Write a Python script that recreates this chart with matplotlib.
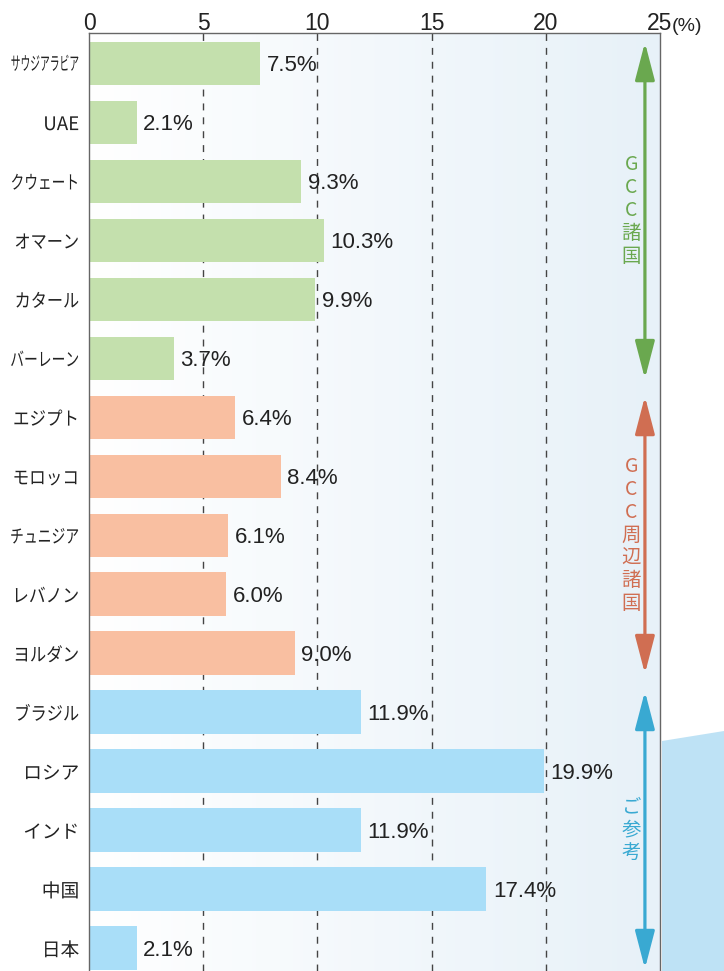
import numpy as np
import matplotlib
matplotlib.use('Agg')
import matplotlib.pyplot as plt
from matplotlib.patheffects import AbstractPathEffect
from matplotlib.transforms import Affine2D
from matplotlib.patches import FancyArrowPatch, Polygon

# ---------------- data ----------------
countries = ['サウジアラビア', 'UAE', 'クウェート', 'オマーン', 'カタール', 'バーレーン',
             'エジプト', 'モロッコ', 'チュニジア', 'レバノン', 'ヨルダン',
             'ブラジル', 'ロシア', 'インド', '中国', '日本']
values = [7.5, 2.1, 9.3, 10.3, 9.9, 3.7,
          6.4, 8.4, 6.1, 6.0, 9.0,
          11.9, 19.9, 11.9, 17.4, 2.1]
group_of = [0]*6 + [1]*5 + [2]*5
group_names = ['GCC諸国', 'GCC周辺諸国', 'ご参考']
group_ranges = [(0, 5), (6, 10), (11, 15)]
xticks = [0, 5, 10, 15, 20, 25]
xtick_labels = ['0', '5', '10', '15', '20', '25']

bar_colors = ['#C4E0AD', '#F9BFA1', '#A9DEF8']
group_colors = ['#6AA84F', '#D06E52', '#39A9D2']
# target label widths (px) for condensed Japanese labels
label_widths = [67, 44, 65, 62, 62, 67, 62, 62, 67, 62, 62, 62, 52, 52, 42, 42]

LABEL_FS = 13.5


class Condense(AbstractPathEffect):
    """Scale text to a target width (right edge fixed) and stretch vertically."""
    def __init__(self, target_px, sy=1.0):
        super().__init__()
        self.target = target_px
        self.sy = sy

    def draw_path(self, renderer, gc, tpath, affine, rgbFace=None):
        ext = tpath.get_extents()
        x0, x1 = ext.x0, ext.x1
        yc = 0.5 * (ext.y0 + ext.y1)
        p0 = affine.transform((x0, 0))
        p1 = affine.transform((x1, 0))
        w = abs(p1[0] - p0[0])
        sx = 1.0
        if w > 0:
            sx = min(self.sy, self.target / w)
        new = (Affine2D().translate(-x1, -yc).scale(sx, self.sy).translate(x1, yc)
               + affine)
        renderer.draw_path(gc, tpath, new, rgbFace)


W, H = 724, 971
fig = plt.figure(figsize=(W/100, H/100), dpi=100)
ax = fig.add_axes([89/W, 0, (660-89)/W, 1 - 33/H])

n = len(countries)
ypos = np.arange(n)

# background gradient
grad = np.linspace(0, 1, 256)[None, :]
c0 = np.array([1.0, 1.0, 1.0])
c1 = np.array([0.906, 0.945, 0.973])
img = c0[None, None, :] * (1 - grad[..., None]) + c1[None, None, :] * grad[..., None]
ax.imshow(img, extent=[0, 25, 15.39, -0.51], aspect='auto', zorder=0)

# grid lines
for xv in [5, 10, 15, 20]:
    ax.axvline(xv, color='#444444', lw=1.0, ls=(0, (5, 5)), zorder=1)

cols = [bar_colors[g] for g in group_of]
ax.barh(ypos, values, height=0.73, color=cols, zorder=2)

for i, v in enumerate(values):
    ax.text(v + 0.28, i + 0.04, f'{v:.1f}%', va='center', ha='left', fontsize=16,
            family=['Liberation Sans', 'DejaVu Sans'], color='#222222', zorder=3)

ax.set_xlim(0, 25)
ax.set_ylim(15.39, -0.51)

ax.xaxis.tick_top()
ax.set_xticks(xticks)
ax.set_xticklabels(xtick_labels, fontsize=16.5, family=['Liberation Sans', 'DejaVu Sans'],
                   color='#222222')
ax.tick_params(axis='x', length=0, pad=-1.5)
fig.text(672/W, 1 - 31/H, '(%)', ha='left', va='baseline',
         fontsize=14, family=['Liberation Sans', 'DejaVu Sans'], color='#222222')

ax.set_yticks(ypos)
ax.set_yticklabels(countries, family=['Noto Sans CJK JP', 'DejaVu Sans'],
                   color='#222222')
ax.tick_params(axis='y', length=0, pad=7)
for lbl, tw, name in zip(ax.get_yticklabels(), label_widths, countries):
    nchar = len(name) if not name.isascii() else 0.75 * len(name)
    fs = min(LABEL_FS, LABEL_FS * 4.1 / nchar)
    lbl.set_fontsize(fs)
    lbl.set_path_effects([Condense(tw, LABEL_FS / fs)])

for s in ['top', 'left', 'right']:
    ax.spines[s].set_color('#666666')
    ax.spines[s].set_linewidth(1.0)
ax.spines['bottom'].set_visible(False)

# group arrows and labels
for (a, b), name, col in zip(group_ranges, group_names, group_colors):
    arr = FancyArrowPatch((24.34, a - 0.35), (24.34, b + 0.35),
                          arrowstyle='<|-|>,head_length=23,head_width=6',
                          color=col, lw=2.3, mutation_scale=1, zorder=4,
                          shrinkA=0, shrinkB=0)
    ax.add_patch(arr)
    ax.text(23.75, (a + b) / 2, '\n'.join(list(name)), ha='center', va='center',
            fontsize=14, linespacing=1.12, color=col,
            family=['Noto Sans CJK JP', 'DejaVu Sans'], zorder=4)

# decorative shape at bottom right
poly = Polygon([(662/W, 1 - 741/H), (1.0, 1 - 731/H), (1.0, 0), (662/W, 0)],
               closed=True, transform=fig.transFigure, facecolor='#BEE2F5',
               edgecolor='none', zorder=-1)
fig.patches.append(poly)

fig.savefig('out.png', dpi=100)
